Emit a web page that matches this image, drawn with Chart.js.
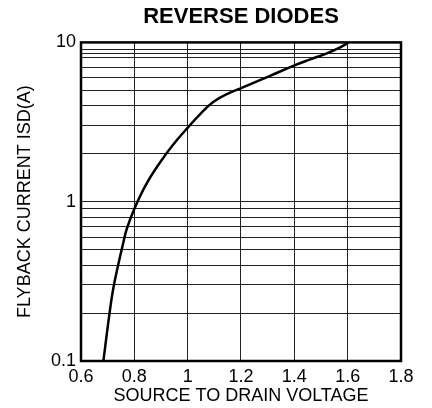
<!DOCTYPE html>
<html>
<head>
<meta charset="utf-8">
<script src="https://cdn.jsdelivr.net/npm/chart.js@4"></script>
<style>
  html, body { margin: 0; padding: 0; background: #fff; }
  #wrap { width: 432px; height: 408px; }
</style>
</head>
<body>
<div id="wrap"><canvas id="chart" width="432" height="408"></canvas></div>
<script>
// curve
const voltage = [0.684, 0.706, 0.721, 0.740, 0.759, 0.772, 0.803, 0.847, 0.909, 0.959, 1.003, 1.047, 1.097, 1.159, 1.207, 1.260, 1.309, 1.403, 1.46, 1.522, 1.566, 1.604];
const current = [0.1, 0.194, 0.285, 0.405, 0.557, 0.679, 0.927, 1.31, 1.89, 2.43, 2.95, 3.55, 4.24, 4.84, 5.22, 5.69, 6.17, 7.2, 7.82, 8.54, 9.2, 10];

// horizontal grid lines as drawn on the sheet, and which of them get a label
const yGrid = [0.1, 0.2, 0.3, 0.4, 0.5, 0.6, 0.7, 0.8, 0.9, 1, 2, 3, 4, 5, 6, 7, 8, 8.5, 9, 10];
const yLabels = [0.1, 1, 10];
const xTicks = [0.6, 0.8, 1, 1.2, 1.4, 1.6, 1.8];

const font = "'Liberation Sans', Arial, Helvetica, sans-serif";

const frame = {
  id: 'frame',
  afterDraw(chart) {
    const { ctx, chartArea: a } = chart;
    ctx.save();
    ctx.strokeStyle = '#000';
    ctx.lineWidth = 2.5;
    ctx.strokeRect(a.left, a.top, a.right - a.left, a.bottom - a.top);
    ctx.restore();
  }
};

new Chart(document.getElementById('chart'), {
  type: 'line',
  data: {
    datasets: [{
      data: voltage.map((v, i) => ({ x: v, y: current[i] })),
      borderColor: '#000',
      borderWidth: 2.5,
      pointRadius: 0,
      tension: 0.4,
      fill: false
    }]
  },
  options: {
    responsive: false,
    animation: false,
    layout: { padding: { left: 0, right: 31, top: 0, bottom: 0 } },
    plugins: {
      legend: { display: false },
      tooltip: { enabled: false },
      title: {
        display: true,
        fullSize: false,
        text: 'REVERSE DIODES',
        color: '#000',
        font: { family: font, size: 22, weight: 'bold' },
        padding: { top: 4, bottom: 12 }
      }
    },
    scales: {
      x: {
        type: 'linear',
        min: 0.6,
        max: 1.8,
        afterBuildTicks: s => { s.ticks = xTicks.map(v => ({ value: v })); },
        afterFit: s => { s.height = 47; },
        grid: { color: '#222', lineWidth: 1, drawTicks: false },
        border: { display: false },
        ticks: {
          autoSkip: false,
          maxRotation: 0,
          padding: 5,
          color: '#000',
          font: { family: font, size: 18 },
          callback: v => String(+v.toFixed(1))
        },
        title: {
          display: true,
          text: 'SOURCE TO DRAIN VOLTAGE',
          color: '#000',
          font: { family: font, size: 18 },
          padding: { top: 0, bottom: 1 }
        }
      },
      y: {
        type: 'logarithmic',
        min: 0.1,
        max: 10,
        afterBuildTicks: s => { s.ticks = yGrid.map(v => ({ value: v })); },
        afterFit: s => { s.width = 81; },
        grid: { color: '#222', lineWidth: 1, drawTicks: false },
        border: { display: false },
        ticks: {
          autoSkip: false,
          padding: 5,
          color: '#000',
          font: { family: font, size: 18 },
          callback: v => yLabels.includes(+v) ? String(v) : ''
        },
        title: {
          display: true,
          text: 'FLYBACK CURRENT ISD(A)',
          color: '#000',
          font: { family: font, size: 18 },
          padding: { top: 14, bottom: 0 }
        }
      }
    }
  },
  plugins: [frame]
});
</script>
</body>
</html>
